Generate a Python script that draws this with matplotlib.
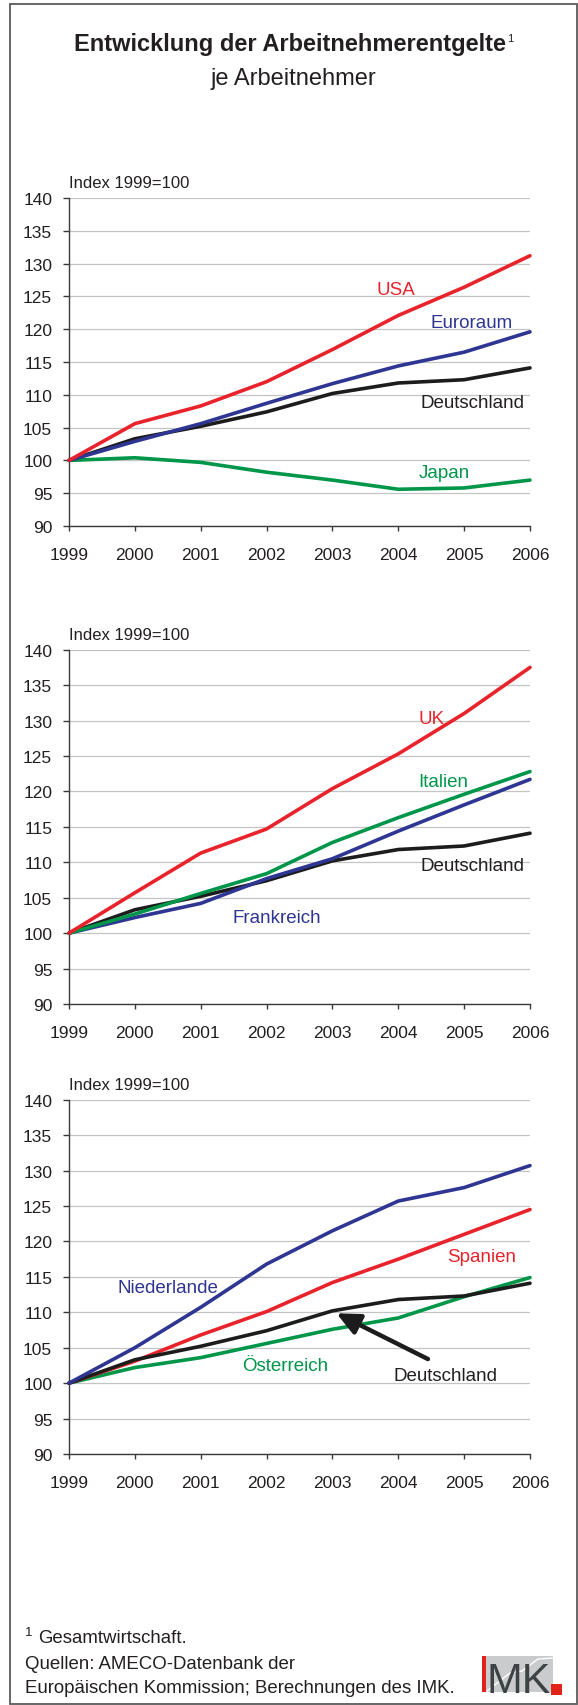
import matplotlib
matplotlib.use("Agg")
import matplotlib.pyplot as plt
from matplotlib.patches import Rectangle
from matplotlib.lines import Line2D

plt.rcParams['font.family'] = ['Liberation Sans', 'DejaVu Sans']

# ---------------- data ----------------
years = [1999, 2000, 2001, 2002, 2003, 2004, 2005, 2006]

deutschland = [100, 103.3, 105.2, 107.4, 110.2, 111.8, 112.3, 114.1]

usa = [100, 105.6, 108.3, 112.0, 116.9, 122.1, 126.4, 131.2]
euroraum = [100, 102.9, 105.6, 108.7, 111.7, 114.4, 116.5, 119.6]
japan = [100, 100.4, 99.7, 98.2, 97.0, 95.6, 95.8, 97.0]

uk = [100, 105.7, 111.3, 114.7, 120.4, 125.3, 131.0, 137.5]
italien = [100, 102.7, 105.6, 108.4, 112.8, 116.3, 119.6, 122.8]
frankreich = [100, 102.2, 104.2, 107.7, 110.5, 114.4, 118.1, 121.7]

niederlande = [100, 105.0, 110.7, 116.8, 121.5, 125.7, 127.6, 130.7]
spanien = [100, 103.1, 106.8, 110.1, 114.2, 117.5, 121.0, 124.5]
oesterreich = [100, 102.2, 103.6, 105.6, 107.6, 109.2, 112.2, 114.9]

y_ticks = [90, 95, 100, 105, 110, 115, 120, 125, 130, 135, 140]
y_label = "Index 1999=100"

# ---------------- style ----------------
RED = "#e8232b"
BLUE = "#2e3592"
GREEN = "#00964a"
BLACK = "#1c1c1c"
TXT = "#231f20"
GRID = "#c4c4c4"
AX = "#3a3a3a"

W, H = 578, 1706
fig = plt.figure(figsize=(W / 100, H / 100), dpi=100)
fig.patch.set_facecolor("white")


def fx(px):
    return px / W


def fy(py):
    return 1 - py / H


# outer frame
fig.patches.append(Rectangle((fx(9.5), fy(1705.3)), fx(577.3) - fx(9.5), fy(4.8) - fy(1705.3),
                             transform=fig.transFigure, fill=False,
                             edgecolor="#5a5a5a", linewidth=1.3))

# title block
title = fig.text(fx(290), fy(51), "Entwicklung der Arbeitnehmerentgelte", ha="center",
                 va="baseline", fontsize=17, fontweight="bold", color=TXT)
renderer = fig.canvas.get_renderer()
tb = title.get_window_extent(renderer)
fig.text(fx(tb.x1 + 1.5), fy(42.5), "1", ha="left", va="baseline", fontsize=8, color=TXT)
fig.text(fx(293.5), fy(85), "je Arbeitnehmer", ha="center", va="baseline",
         fontsize=17, color=TXT)


def make_panel(top, bottom, series, labels, arrow=None):
    ax = fig.add_axes([fx(69), fy(bottom), fx(530) - fx(69), (bottom - top) / H])
    ax.set_xlim(1999, 2006)
    ax.set_ylim(90, 140)
    ax.set_yticks(y_ticks)
    ax.set_xticks(years)
    ax.set_xticklabels([str(y) for y in years])
    ax.grid(axis="y", color=GRID, linewidth=0.9)
    ax.set_axisbelow(True)
    for s in ("top", "right"):
        ax.spines[s].set_visible(False)
    for s in ("left", "bottom"):
        ax.spines[s].set_color(AX)
        ax.spines[s].set_linewidth(1.0)
    ax.tick_params(axis="y", direction="out", length=4.6, width=1.0, color=AX,
                   pad=7.5, labelsize=12.5, labelcolor=TXT)
    ax.tick_params(axis="x", direction="out", length=3.6, width=1.0, color=AX,
                   pad=11.5, labelsize=12.5, labelcolor=TXT)
    for vals, col, z in series:
        ax.plot(years, vals, color=col, linewidth=2.6, solid_capstyle="round",
                solid_joinstyle="round", clip_on=False, zorder=z)
    for text, x, y, col in labels:
        ax.annotate(text, xy=(x, y), xytext=(0, -4.7), textcoords="offset points",
                    ha="center", va="baseline", fontsize=13.5, color=col)
    ax.annotate(y_label, xy=(0, 1), xycoords="axes fraction", xytext=(0, 8),
                textcoords="offset points", ha="left", va="baseline",
                fontsize=12, color=TXT)
    if arrow is not None:
        (x0, y0), (x1, y1) = arrow
        ax.annotate("", xy=(x1, y1), xytext=(x0, y0),
                    arrowprops=dict(arrowstyle="-|>,head_length=1.4,head_width=0.65",
                                    color=BLACK, linewidth=3.2,
                                    shrinkA=0, shrinkB=0), zorder=6)
    return ax


make_panel(199, 527,
           [(deutschland, BLACK, 3), (euroraum, BLUE, 4), (japan, GREEN, 3), (usa, RED, 5)],
           [("USA", 2003.96, 126.3, RED), ("Euroraum", 2005.12, 121.4, BLUE),
            ("Deutschland", 2005.12, 109.2, TXT), ("Japan", 2004.7, 98.5, GREEN)])

make_panel(650.7, 1005,
           [(deutschland, BLACK, 3), (frankreich, BLUE, 4), (italien, GREEN, 5), (uk, RED, 5)],
           [("UK", 2004.5, 130.6, RED), ("Italien", 2004.69, 121.7, GREEN),
            ("Deutschland", 2005.12, 109.8, TXT), ("Frankreich", 2002.15, 102.5, BLUE)])

make_panel(1100.7, 1455,
           [(deutschland, BLACK, 4), (oesterreich, GREEN, 3), (spanien, RED, 3), (niederlande, BLUE, 4)],
           [("Niederlande", 2000.5, 113.75, BLUE), ("Spanien", 2005.27, 118.2, RED),
            ("Österreich", 2002.28, 102.8, GREEN), ("Deutschland", 2004.72, 101.4, TXT)],
           arrow=((2004.45, 103.4), (2003.06, 109.86)))

# footnote and sources
fig.text(fx(25), fy(1636.5), "1", ha="left", va="baseline", fontsize=9.5, color=TXT)
fig.text(fx(38.6), fy(1643.3), "Gesamtwirtschaft.", ha="left", va="baseline",
         fontsize=13.4, color=TXT)
fig.text(fx(25), fy(1669.5), "Quellen: AMECO-Datenbank der", ha="left",
         va="baseline", fontsize=13.4, color=TXT)
fig.text(fx(25), fy(1693.3), "Europäischen Kommission; Berechnungen des IMK.",
         ha="left", va="baseline", fontsize=13.4, color=TXT)

# IMK logo
fig.patches.append(Rectangle((fx(482), fy(1693)), fx(553) - fx(482), fy(1657) - fy(1693),
                             transform=fig.transFigure, facecolor="#c9cbcd",
                             edgecolor="none"))
fig.lines.append(Line2D([fx(487), fx(510), fx(522), fx(538), fx(553)],
                        [fy(1692), fy(1674), fy(1672), fy(1660), fy(1659)],
                        transform=fig.transFigure, color="white", linewidth=1.0))
fig.patches.append(Rectangle((fx(482), fy(1693)), fx(486) - fx(482), fy(1657) - fy(1693),
                             transform=fig.transFigure, facecolor="#e2231a",
                             edgecolor="none"))
fig.patches.append(Rectangle((fx(551), fy(1695.5)), fx(562) - fx(551), fy(1685) - fy(1695.5),
                             transform=fig.transFigure, facecolor="#e2231a",
                             edgecolor="none"))
fig.text(fx(519), fy(1693), "MK", ha="center", va="baseline", fontsize=31,
         color="#3d4245", family=["Liberation Sans Narrow", "Liberation Sans"])

fig.savefig("out.png", dpi=100, facecolor="white")
